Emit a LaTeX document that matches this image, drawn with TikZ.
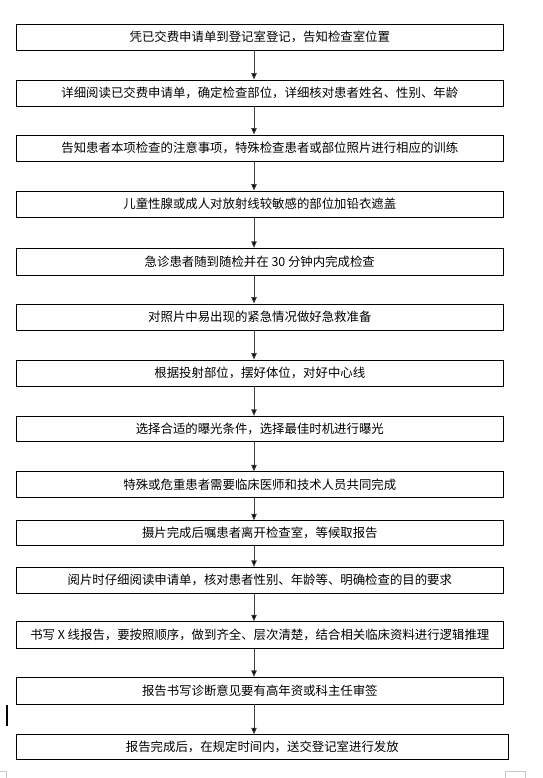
\documentclass[tikz,border=0pt]{standalone}
\usepackage{fontspec}
\newfontfamily\cjk{Noto Sans CJK SC}
\usetikzlibrary{arrows.meta}
\begin{document}
\begin{tikzpicture}[x=1pt,y=-1pt,
  box/.style={draw=black, line width=0.9pt, minimum width=487pt, inner sep=0pt,
    font=\cjk\fontsize{12.4}{14}\selectfont, fill=white, text=black},
  flow/.style={draw=black!75, line width=0.9pt, -{Triangle[length=6.5pt,width=5.5pt,fill=black]}},
  pagemark/.style={draw=black!22, line width=0.6pt}]
\useasboundingbox (0,0) rectangle (542,778);
\fill[white] (0,0) rectangle (542,778);
\coordinate (ax) at (254,0);

\node[box, minimum height=26.7pt] (b1) at (259.8,37.35) {凭已交费申请单到登记室登记，告知检查室位置};
\node[box, minimum height=26.7pt] (b2) at (259.8,93.35) {详细阅读已交费申请单，确定检查部位，详细核对患者姓名、性别、年龄};
\node[box, minimum height=26.3pt] (b3) at (259.8,148.15) {告知患者本项检查的注意事项，特殊检查患者或部位照片进行相应的训练};
\node[box, minimum height=26.3pt] (b4) at (259.8,204.15) {儿童性腺或成人对放射线较敏感的部位加铅衣遮盖};
\node[box, minimum height=27.4pt] (b5) at (259.8,262) {急诊患者随到随检并在 30 分钟内完成检查};
\node[box, minimum height=26.3pt] (b6) at (259.8,317.15) {对照片中易出现的紧急情况做好急救准备};
\node[box, minimum height=26.3pt] (b7) at (259.8,373.15) {根据投射部位，摆好体位，对好中心线};
\node[box, minimum height=25.4pt] (b8) at (259.8,429) {选择合适的曝光条件，选择最佳时机进行曝光};
\node[box, minimum height=25.6pt] (b9) at (259.8,484.5) {特殊或危重患者需要临床医师和技术人员共同完成};
\node[box, minimum height=24.6pt] (b10) at (259.8,533) {摄片完成后嘱患者离开检查室，等候取报告};
\node[box, minimum height=25.7pt] (b11) at (259.8,580.15) {阅片时仔细阅读申请单，核对患者性别、年龄等、明确检查的目的要求};
\node[box, minimum height=26.6pt] (b12) at (259.8,635) {书写 X 线报告，要按照顺序，做到齐全、层次清楚，结合相关临床资料进行逻辑推理};
\node[box, minimum height=26.7pt] (b13) at (259.8,690.65) {报告书写诊断意见要有高年资或科主任审签};
\node[box, minimum height=24.6pt, minimum width=492pt] (b14) at (262.3,747) {报告完成后，在规定时间内，送交登记室进行发放};

\foreach \a/\b in {b1/b2,b2/b3,b3/b4,b4/b5,b5/b6,b6/b7,b7/b8,b8/b9,b9/b10,b10/b11,b11/b12,b12/b13,b13/b14}
  \draw[flow] (\a.south -| ax) -- (\b.north -| ax);

\draw[line width=1.6pt] (6.7,705) -- (6.7,726);
\draw[pagemark] (0,771) -- (6.5,771) -- (6.5,778);
\draw[pagemark] (505,778) -- (505,771) -- (525,771) -- (525,778);
\end{tikzpicture}
\end{document}
